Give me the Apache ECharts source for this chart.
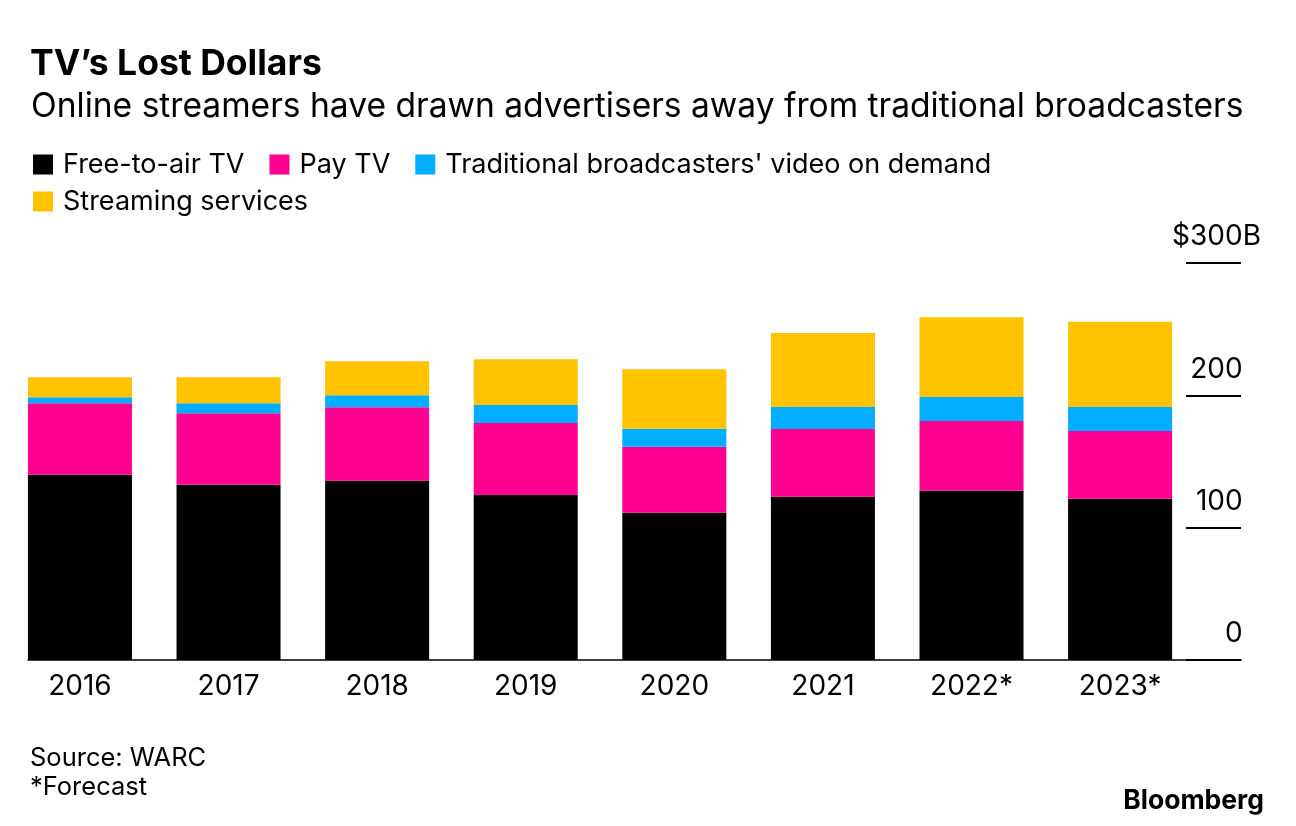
<!DOCTYPE html>
<html>
<head>
<meta charset="utf-8">
<script src="https://cdn.jsdelivr.net/npm/echarts@6/dist/echarts.min.js"></script>
<style>
html,body{margin:0;padding:0;background:#fff;}
#chart{width:1296px;height:826px;}
</style>
</head>
<body>
<div id="chart"></div>
<script>
const categories = ['2016', '2017', '2018', '2019', '2020', '2021', '2022*', '2023*'];
const freeToAir = [140.0, 132.5, 135.5, 124.7, 111.3, 123.4, 127.9, 121.9];
const payTV = [54.0, 53.9, 55.5, 54.4, 49.9, 51.2, 52.7, 51.2];
const broadcasterVOD = [4.5, 7.6, 9.0, 13.6, 13.6, 16.6, 18.1, 18.1];
const streaming = [15.1, 19.6, 25.7, 34.5, 44.9, 55.9, 60.3, 64.4];
const seriesNames = ['Free-to-air TV', 'Pay TV', "Traditional broadcasters' video on demand", 'Streaming services'];
const yMin = 0, yMax = 300, yStep = 100;

const FONT = 'Inter, "Liberation Sans", Arial, sans-serif';
const colors = ['#000000', '#ff0090', '#00adff', '#ffc300'];
const chart = echarts.init(document.getElementById('chart'), null, {renderer: 'canvas'});

const values = [freeToAir, payTV, broadcasterVOD, streaming];

const option = {
  backgroundColor: '#ffffff',
  animation: false,
  textStyle: {fontFamily: FONT},
  title: [
    {text: "TV\u2019s Lost Dollars", left: 25, top: 41,
     textStyle: {fontFamily: FONT, fontSize: 35.5, fontWeight: 'bold', color: '#000', lineHeight: 36}},
    {text: 'Online streamers have drawn advertisers away from traditional broadcasters', left: 26, top: 85,
     textStyle: {fontFamily: FONT, fontSize: 33.6, fontWeight: 'normal', color: '#000', lineHeight: 34}},
    {text: 'Source: WARC', left: 25, top: 740,
     textStyle: {fontFamily: FONT, fontSize: 25.5, fontWeight: 'normal', color: '#000', lineHeight: 26}},
    {text: '*Forecast', left: 25, top: 769,
     textStyle: {fontFamily: FONT, fontSize: 25.5, fontWeight: 'normal', color: '#000', lineHeight: 26}},
    {text: 'Bloomberg', right: 27, top: 783,
     textStyle: {fontFamily: FONT, fontSize: 26.5, fontWeight: 'bold', color: '#000', lineHeight: 27}}
  ],
  legend: [
    {data: seriesNames.slice(0, 3), left: 33, top: 151, padding: 0, itemGap: 25,
     itemWidth: 20, itemHeight: 20, icon: 'rect', selectedMode: false,
     textStyle: {fontFamily: FONT, fontSize: 27, color: '#000', padding: [0, 0, 0, 5]}},
    {data: seriesNames.slice(3), left: 33, top: 188, padding: 0, itemGap: 25,
     itemWidth: 20, itemHeight: 20, icon: 'rect', selectedMode: false,
     textStyle: {fontFamily: FONT, fontSize: 27, color: '#000', padding: [0, 0, 0, 5]}}
  ],
  grid: [
    {left: 5.65, right: 101.6, top: 263, bottom: 166, containLabel: false},
    {left: 28, right: 55, top: 263, bottom: 166, containLabel: false}
  ],
  xAxis: [
    {type: 'category', gridIndex: 0, data: categories,
     axisLine: {show: false}, axisTick: {show: false},
     axisLabel: {fontFamily: FONT, fontSize: 28, color: '#000', margin: 13}},
    {type: 'value', gridIndex: 1, min: 0, max: 1, show: true,
     axisLine: {show: true, onZero: false, lineStyle: {color: '#000', width: 1.5}},
     axisTick: {show: false}, axisLabel: {show: false}, splitLine: {show: false}}
  ],
  yAxis: [
    {type: 'value', gridIndex: 0, min: yMin, max: yMax, interval: yStep, show: false,
     splitLine: {show: false}},
    {type: 'value', gridIndex: 1, min: yMin, max: yMax, interval: yStep, position: 'right',
     axisLine: {show: false, onZero: false},
     axisTick: {show: true, inside: true, length: 55, lineStyle: {color: '#000', width: 2}},
     splitLine: {show: false},
     axisLabel: {inside: true, margin: -20, fontFamily: FONT, fontSize: 28, color: '#000',
       verticalAlign: 'bottom', padding: [0, 0, 12, 0],
       formatter: v => v === yMax ? '$' + v + 'B' : v + '{ghost|B}',
       rich: {ghost: {fontFamily: FONT, fontSize: 28, color: 'rgba(0,0,0,0)'}}}}
  ],
  series: seriesNames.map((name, i) => ({
    name: name,
    type: 'bar',
    stack: 'total',
    xAxisIndex: 0,
    yAxisIndex: 0,
    barCategoryGap: '30%',
    data: values[i],
    itemStyle: {color: colors[i]},
    emphasis: {disabled: true}
  }))
};
chart.setOption(option);
</script>
</body>
</html>
